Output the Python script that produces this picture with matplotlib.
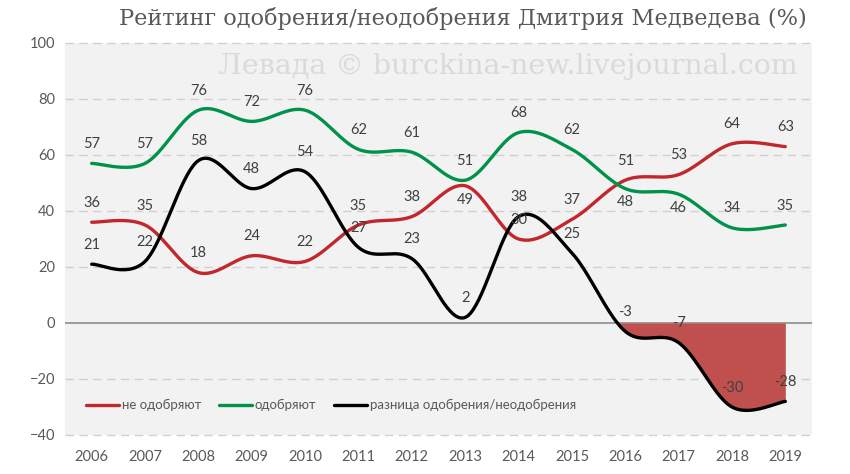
import numpy as np
import matplotlib.pyplot as plt

years = np.arange(2006, 2020)
disapprove = [36, 35, 18, 24, 22, 35, 38, 49, 30, 37, 51, 53, 64, 63]
approve = [57, 57, 76, 72, 76, 62, 61, 51, 68, 62, 48, 46, 34, 35]
diff = [a - d for a, d in zip(approve, disapprove)]
yticks = [100, 80, 60, 40, 20, 0, -20, -40]

# labels that sit under the point instead of above it
below = {("dis", 2013), ("app", 2016), ("app", 2017)}

RED = "#c1272d"
GREEN = "#00924a"
FILL = "#c0504d"
GRAY = "#595959"
LABEL = "#404040"
SANS = "Lato"
SERIF = "DejaVu Serif"


def smooth(x, y, n=40):
    # Excel-like smoothed line: cubic bezier with catmull-rom control points
    x = np.asarray(x, float)
    y = np.asarray(y, float)
    px = np.concatenate([[x[0]], x, [x[-1]]])
    py = np.concatenate([[y[0]], y, [y[-1]]])
    out_x, out_y = [], []
    t = np.linspace(0, 1, n)
    for i in range(1, len(px) - 2):
        p0 = np.array([px[i], py[i]])
        p3 = np.array([px[i + 1], py[i + 1]])
        p1 = p0 + (np.array([px[i + 1], py[i + 1]]) - np.array([px[i - 1], py[i - 1]])) / 6
        p2 = p3 - (np.array([px[i + 2], py[i + 2]]) - np.array([px[i], py[i]])) / 6
        b = ((1 - t) ** 3)[:, None] * p0 + (3 * (1 - t) ** 2 * t)[:, None] * p1 \
            + (3 * (1 - t) * t ** 2)[:, None] * p2 + (t ** 3)[:, None] * p3
        if i > 1:
            b = b[1:]
        out_x.append(b[:, 0])
        out_y.append(b[:, 1])
    return np.concatenate(out_x), np.concatenate(out_y)


fig = plt.figure(figsize=(8.5, 4.74), dpi=100)
ax = fig.add_axes([65 / 850, 39 / 474, 747 / 850, 392 / 474])
ax.set_facecolor("#f2f2f2")

for v in yticks:
    if v == 0:
        ax.axhline(0, color="#8c8c8c", lw=1.2, zorder=1)
    else:
        ax.axhline(v, color="#d0d0d0", lw=1, ls=(0, (6, 4)), zorder=1, clip_on=False)

sx, sd = smooth(years, diff)
ax.fill_between(sx, sd, 0, where=sd < 0, interpolate=True, color=FILL, lw=0, zorder=2)

_, sr = smooth(years, disapprove)
_, sg = smooth(years, approve)
ax.plot(sx, sr, color=RED, lw=2.4, label="не одобряют", zorder=3, solid_capstyle="round")
ax.plot(sx, sg, color=GREEN, lw=2.4, label="одобряют", zorder=3, solid_capstyle="round")
ax.plot(sx, sd, color="black", lw=2.4, label="разница одобрения/неодобрения", zorder=4,
        solid_capstyle="round")

for key, vals in (("app", approve), ("dis", disapprove), ("diff", diff)):
    for yr, v in zip(years, vals):
        dy = -10 if (key, yr) in below else 14
        ax.annotate(str(v), (yr, v), xytext=(0, dy), textcoords="offset points",
                    ha="center", va="center", fontsize=10.5, color=LABEL,
                    family=SANS, zorder=5)

ax.set_xlim(2005.5, 2019.5)
ax.set_ylim(-40, 100)
ax.set_xticks(years)
ax.set_xticklabels([str(y) for y in years])
ax.set_yticks(yticks)
ax.tick_params(length=0, labelsize=10.5, labelcolor=GRAY, pad=7)
ax.tick_params(axis="x", pad=11)
for lab in ax.get_xticklabels() + ax.get_yticklabels():
    lab.set_family(SANS)
for s in ax.spines.values():
    s.set_visible(False)

leg = ax.legend(loc="lower left", bbox_to_anchor=(0.012, 0.03), ncol=3, frameon=False,
                handlelength=2.5, handletextpad=0.25, columnspacing=1.3,
                prop={"family": SANS, "size": 9.5})
for t in leg.get_texts():
    t.set_color(GRAY)

fig.text(463 / 850, 1 - 19 / 474, "Рейтинг одобрения/неодобрения Дмитрия Медведева (%)",
         ha="center", va="center", fontsize=16.2, color=GRAY, family=SERIF)
fig.text(508 / 850, 1 - 66 / 474, "Левада © burckina-new.livejournal.com",
         ha="center", va="center", fontsize=20.5, color="#dadada", family=SERIF, zorder=0)

fig.savefig("out.png", dpi=100)
